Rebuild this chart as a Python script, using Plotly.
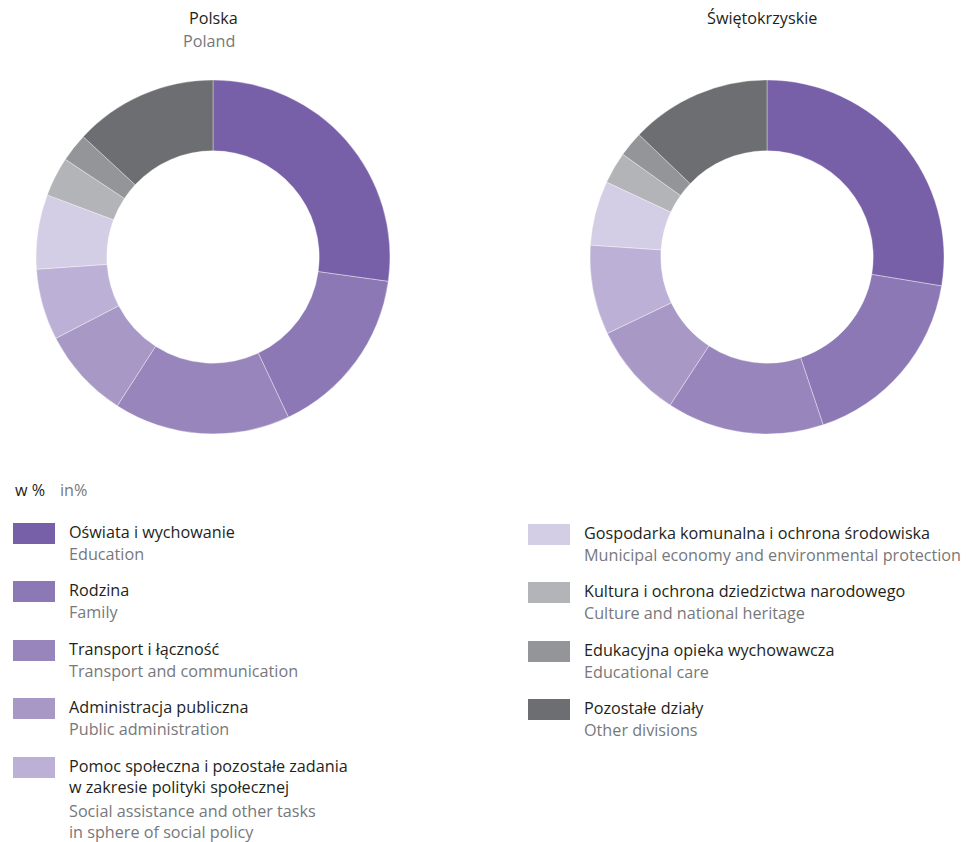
import plotly.graph_objects as go

# The page body adds an 8px margin, so the figure is drawn 8px smaller and
# every reference pixel position is shifted by that offset.
OFF = 8
W, H = 978 - OFF, 842 - OFF

categories_pl = [
    "Oświata i wychowanie",
    "Rodzina",
    "Transport i łączność",
    "Administracja publiczna",
    "Pomoc społeczna i pozostałe zadania<br>w zakresie polityki społecznej",
    "Gospodarka komunalna i ochrona środowiska",
    "Kultura i ochrona dziedzictwa narodowego",
    "Edukacyjna opieka wychowawcza",
    "Pozostałe działy",
]
categories_en = [
    "Education",
    "Family",
    "Transport and communication",
    "Public administration",
    "Social assistance and other tasks<br>in sphere of social policy",
    "Municipal economy and environmental protection",
    "Culture and national heritage",
    "Educational care",
    "Other divisions",
]
polska = [27.2, 15.8, 16.1, 8.3, 6.5, 6.8, 3.6, 2.6, 13.1]
swietokrzyskie = [27.7, 17.3, 14.4, 8.7, 8.2, 5.9, 2.9, 2.3, 12.9]

colors = ["#7860a9", "#8c78b5", "#9885bc", "#a898c6", "#bcb0d6",
          "#d3cde5", "#b3b4b7", "#939598", "#6d6e71"]

FONT = "Open Sans"
DARK = "#231f20"
GREY = "#77787b"
FS = 16.2


def px(x):
    return (x - OFF) / W


def py(y):
    return 1 - (y - OFF) / H


fig = go.Figure()

for vals, (x0, x1) in [(polska, (36, 390)), (swietokrzyskie, (590, 944))]:
    fig.add_trace(go.Pie(
        labels=[c.replace("<br>", " ") for c in categories_pl],
        values=vals,
        sort=False,
        direction="clockwise",
        rotation=0,
        hole=0.6,
        marker=dict(colors=colors, line=dict(color="rgba(255,255,255,0.6)", width=0.6)),
        textinfo="none",
        hoverinfo="label+value",
        showlegend=False,
        domain=dict(x=[px(x0), px(x1)], y=[py(434), py(80)]),
    ))

ann = []
shapes = []

# titles
ann.append(dict(x=px(213), y=py(18), text="Polska", xanchor="center", font=dict(color=DARK, size=FS)))
ann.append(dict(x=px(209), y=py(41), text="Poland", xanchor="center", font=dict(color=GREY, size=FS)))
ann.append(dict(x=px(762), y=py(18), text="Świętokrzyskie", xanchor="center", font=dict(color=DARK, size=FS)))

# unit label
ann.append(dict(x=px(13), y=py(490), text="w %", xanchor="left", font=dict(color=DARK, size=FS)))
ann.append(dict(x=px(58), y=py(490), text="in%", xanchor="left", font=dict(color=GREY, size=FS)))

# manual legend
left_rows = [532, 590, 649, 707, 766]
right_rows = [533, 591, 650, 708]
positions = [(13, 69, y) for y in left_rows] + [(528, 584, y) for y in right_rows]
for i, (sx, tx, ty) in enumerate(positions):
    shapes.append(dict(type="rect", xref="paper", yref="paper",
                       x0=px(sx), x1=px(sx + 42), y0=py(ty - 9), y1=py(ty + 12),
                       fillcolor=colors[i], line=dict(width=0)))
    pl = categories_pl[i]
    n_pl = pl.count("<br>") + 1
    ann.append(dict(x=px(tx - 2), y=py(ty - 13), text=pl, xanchor="left", yanchor="top",
                    align="left", font=dict(color=DARK, size=FS)))
    ann.append(dict(x=px(tx - 2), y=py(ty - 13 + 22.3 * n_pl), text=categories_en[i],
                    xanchor="left", yanchor="top", align="left",
                    font=dict(color=GREY, size=FS)))

for a in ann:
    a.setdefault("xref", "paper")
    a.setdefault("yref", "paper")
    a.setdefault("showarrow", False)
    a.setdefault("yanchor", "middle")

fig.update_layout(
    width=W, height=H,
    margin=dict(l=0, r=0, t=0, b=0),
    paper_bgcolor="white",
    plot_bgcolor="white",
    font=dict(family=FONT, size=FS, color=DARK),
    annotations=ann,
    shapes=shapes,
)

fig.write_html("out.html")
